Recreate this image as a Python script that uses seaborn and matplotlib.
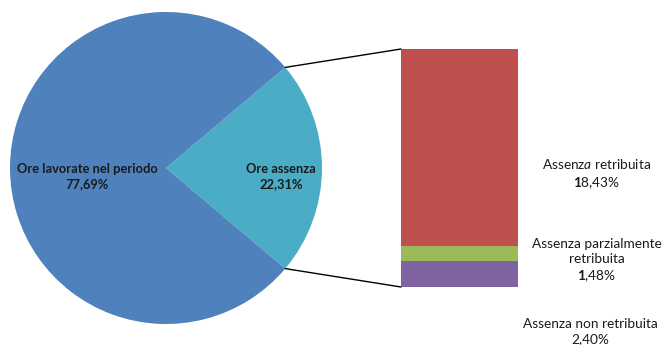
import matplotlib
matplotlib.use("Agg")
import matplotlib.pyplot as plt
import seaborn as sns
import numpy as np
from matplotlib.patches import ConnectionPatch

# pie data
pie_labels = ["Ore assenza", "Ore lavorate nel periodo"]
pie_values = [22.31, 77.69]
pie_colors = ["#4BACC6", "#4F81BD"]

# breakdown of absence (bottom to top)
bar_labels = ["Assenza non retribuita", "Assenza parzialmente\nretribuita", "Assenza retribuita"]
bar_values = [2.40, 1.48, 18.43]
bar_colors = ["#8064A2", "#9BBB59", "#C0504D"]

sns.set_theme(style="white")
plt.rcParams['font.family'] = ['Lato', 'DejaVu Sans']
plt.rcParams['mathtext.fontset'] = 'custom'
plt.rcParams['mathtext.rm'] = 'Lato'
plt.rcParams['mathtext.it'] = 'Lato:italic'
plt.rcParams['mathtext.bf'] = 'Lato:bold'
txt = "#1a1a1a"

fig = plt.figure(figsize=(6.63, 3.45), dpi=100)
fig.patch.set_facecolor("white")

# pie
ax1 = fig.add_axes([10 / 663, 21 / 345, 312 / 663, 312 / 345])
half = pie_values[0] / 100 * 360 / 2
ax1.pie(pie_values, colors=pie_colors, startangle=-half, radius=1,
        wedgeprops=dict(linewidth=0))
ax1.set_xlim(-1, 1)
ax1.set_ylim(-1, 1)
ax1.set_aspect("equal")
ax1.axis("off")

ax1.text(-0.506, -0.054, "Ore lavorate nel periodo\n77,69%", ha="center", va="center",
         fontsize=9.3, fontweight="bold", color=txt, linespacing=1.25)
ax1.text(0.737, -0.054, "Ore assenza\n22,31%", ha="center", va="center",
         fontsize=9.3, fontweight="bold", color=txt, linespacing=1.25)

# stacked bar (cumulative overlay)
ax2 = fig.add_axes([401 / 663, 58 / 345, 117 / 663, 238 / 345])
cum = np.cumsum(bar_values)
for i in range(len(bar_values) - 1, -1, -1):
    sns.barplot(x=[0], y=[cum[i]], color=bar_colors[i], width=1, ax=ax2,
                saturation=1, linewidth=0)
ax2.set_xlim(-0.5, 0.5)
ax2.set_ylim(0, cum[-1])
ax2.axis("off")

# connection lines
for ang, yb in [(half, cum[-1]), (-half, 0)]:
    a = np.deg2rad(ang)
    con = ConnectionPatch(xyA=(np.cos(a), np.sin(a)), coordsA=ax1.transData,
                          xyB=(-0.5, yb), coordsB=ax2.transData,
                          color="black", linewidth=1)
    fig.add_artist(con)

# labels on the right
fig.text(0.900, 0.496, "Assenz$\\mathit{a}$ retribuita\n$\\mathbf{1}$8,43%",
         ha="center", va="center", fontsize=9.8, color=txt, linespacing=1.3)
fig.text(0.900, 0.243, "Assenza parzialmente\nretribuita\n$\\mathbf{1}$,48%",
         ha="center", va="center", fontsize=9.8, color=txt, linespacing=1.3)
fig.text(0.890, 0.040, "Assenza non retribuita\n2,40%",
         ha="center", va="center", fontsize=9.8, color=txt, linespacing=1.3)

fig.savefig("out.png", dpi=100)
